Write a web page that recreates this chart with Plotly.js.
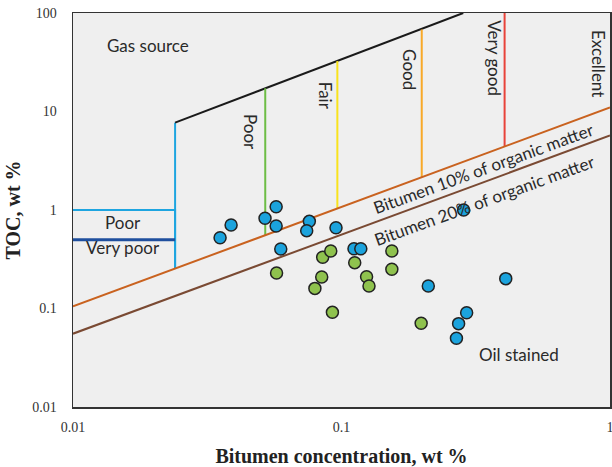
<!DOCTYPE html>
<html>
<head>
<meta charset="utf-8">
<script src="https://cdn.plot.ly/plotly-3.0.1.min.js"></script>
<style>html,body{margin:0;padding:0;background:#fff;}#chart{width:612px;height:467px;}</style>
</head>
<body>
<div id="chart"></div>
<script>
// Sample points (Bitumen wt %, TOC wt %)
const blueX = [0.0353, 0.0388, 0.0519, 0.0571, 0.0571, 0.0594, 0.0759, 0.0742, 0.0954, 0.285, 0.1113, 0.118, 0.2105, 0.409, 0.2925, 0.273, 0.268];
const blueY = [0.523, 0.705, 0.824, 1.08, 0.689, 0.402, 0.767, 0.617, 0.661, 1.0, 0.404, 0.404, 0.169, 0.201, 0.0907, 0.0702, 0.0498];
const greenX = [0.0573, 0.0851, 0.0912, 0.112, 0.154, 0.154, 0.0844, 0.0796, 0.124, 0.1266, 0.0925, 0.198];
const greenY = [0.229, 0.331, 0.384, 0.292, 0.384, 0.250, 0.209, 0.160, 0.210, 0.169, 0.0914, 0.0708];

// Boundary lines
const poorBoxX = [0.01, 0.024, 0.024];
const poorBoxY = [1, 1, 0.254];
const veryPoorX = [0.01, 0.024];
const veryPoorY = [0.5, 0.5];
const gasLineX = [0.024, 0.024, 0.284];
const gasLineY = [0.254, 7.7, 100];
const gradeX = [0.052, 0.0965, 0.199, 0.405];
const gradeBottom = [0.55, 1.03, 2.15, 4.4];
const gradeTop = [17.2, 32.5, 68, 100];
const gradeColors = ['#6cbd45', '#f9e31c', '#f8a928', '#e8433a'];
const bit10X = [0.01, 1];
const bit10Y = [0.105, 11.0];
const bit20X = [0.01, 1];
const bit20Y = [0.0555, 5.7];

const traces = [];
traces.push({x: poorBoxX, y: poorBoxY, mode: 'lines', line: {color: '#1ea5e0', width: 2}, hoverinfo: 'skip'});
traces.push({x: [gasLineX[0], gasLineX[1]], y: [gasLineY[0], gasLineY[1]], mode: 'lines', line: {color: '#1ea5e0', width: 2}, hoverinfo: 'skip'});
traces.push({x: veryPoorX, y: veryPoorY, mode: 'lines', line: {color: '#1f4f9e', width: 3}, hoverinfo: 'skip'});
traces.push({x: [gasLineX[1], gasLineX[2]], y: [gasLineY[1], gasLineY[2]], mode: 'lines', line: {color: '#1a1a1a', width: 2}, hoverinfo: 'skip'});
for (let i = 0; i < gradeX.length; i++) {
  traces.push({x: [gradeX[i], gradeX[i]], y: [gradeBottom[i], gradeTop[i]], mode: 'lines', line: {color: gradeColors[i], width: 2}, hoverinfo: 'skip'});
}
traces.push({x: bit10X, y: bit10Y, mode: 'lines', line: {color: '#c9621f', width: 2}, hoverinfo: 'skip'});
traces.push({x: bit20X, y: bit20Y, mode: 'lines', line: {color: '#7a4a33', width: 2}, hoverinfo: 'skip'});
traces.push({x: greenX, y: greenY, mode: 'markers', marker: {size: 12, color: '#8fc24e', line: {color: '#222', width: 1.5}}});
traces.push({x: blueX, y: blueY, mode: 'markers', marker: {size: 12, color: '#1ba3dd', line: {color: '#222', width: 1.5}}});

const af = {family: 'Lato, "Open Sans", sans-serif', size: 17, color: '#2a2a2a'};
function ann(text, lx, ly, angle) {
  return {text: text, x: lx, y: ly, xref: 'x', yref: 'y', showarrow: false, textangle: angle || 0, font: af};
}
const annotations = [
  ann('Gas source', -1.7207, 1.668),
  ann('Poor', -1.814, -0.122),
  ann('Very poor', -1.814, -0.383),
  ann('Poor', -1.341, 0.792, 90),
  ann('Fair', -1.0615, 1.160, 90),
  ann('Good', -0.745, 1.421, 90),
  ann('Very good', -0.4283, 1.540, 90),
  ann('Excellent', -0.0435, 1.489, 90),
  ann('Bitumen 10% of organic matter', -0.472, 0.423, -20),
  ann('Bitumen 20% of organic matter', -0.469, 0.10, -20),
  ann('Oil stained', -0.339, -1.472)
];

const tickFont = {family: '"Liberation Serif", "Times New Roman", serif', size: 14, color: '#333'};
const titleFont = {family: '"Liberation Serif", "Times New Roman", serif', size: 20, color: '#222', weight: 'bold'};

const layout = {
  width: 612, height: 467,
  margin: {l: 73, r: 2, t: 13, b: 60},
  paper_bgcolor: '#ffffff',
  plot_bgcolor: '#efefef',
  showlegend: false,
  xaxis: {
    type: 'log', range: [-2, 0],
    tickvals: [0.01, 0.1, 1], ticktext: ['0.01', '0.1', '1'],
    ticks: '', showgrid: false, zeroline: false,
    showline: true, mirror: true, linecolor: '#333', linewidth: 1.5,
    tickfont: tickFont, ticklabelstandoff: 7, ticklabeloverflow: 'allow',
    title: {text: 'Bitumen concentration, wt %', font: titleFont, standoff: 17}
  },
  yaxis: {
    type: 'log', range: [-2, 2],
    tickvals: [0.01, 0.1, 1, 10, 100], ticktext: ['0.01', '0.1', '1', '10', '100'],
    ticks: '', showgrid: false, zeroline: false,
    showline: true, mirror: true, linecolor: '#333', linewidth: 1.5,
    tickfont: tickFont, ticklabelstandoff: 12, ticklabeloverflow: 'allow',
    title: {text: 'TOC, wt %', font: titleFont, standoff: 6}
  },
  annotations: annotations
};

Plotly.newPlot('chart', traces, layout, {displayModeBar: false, staticPlot: true});
</script>
</body>
</html>
